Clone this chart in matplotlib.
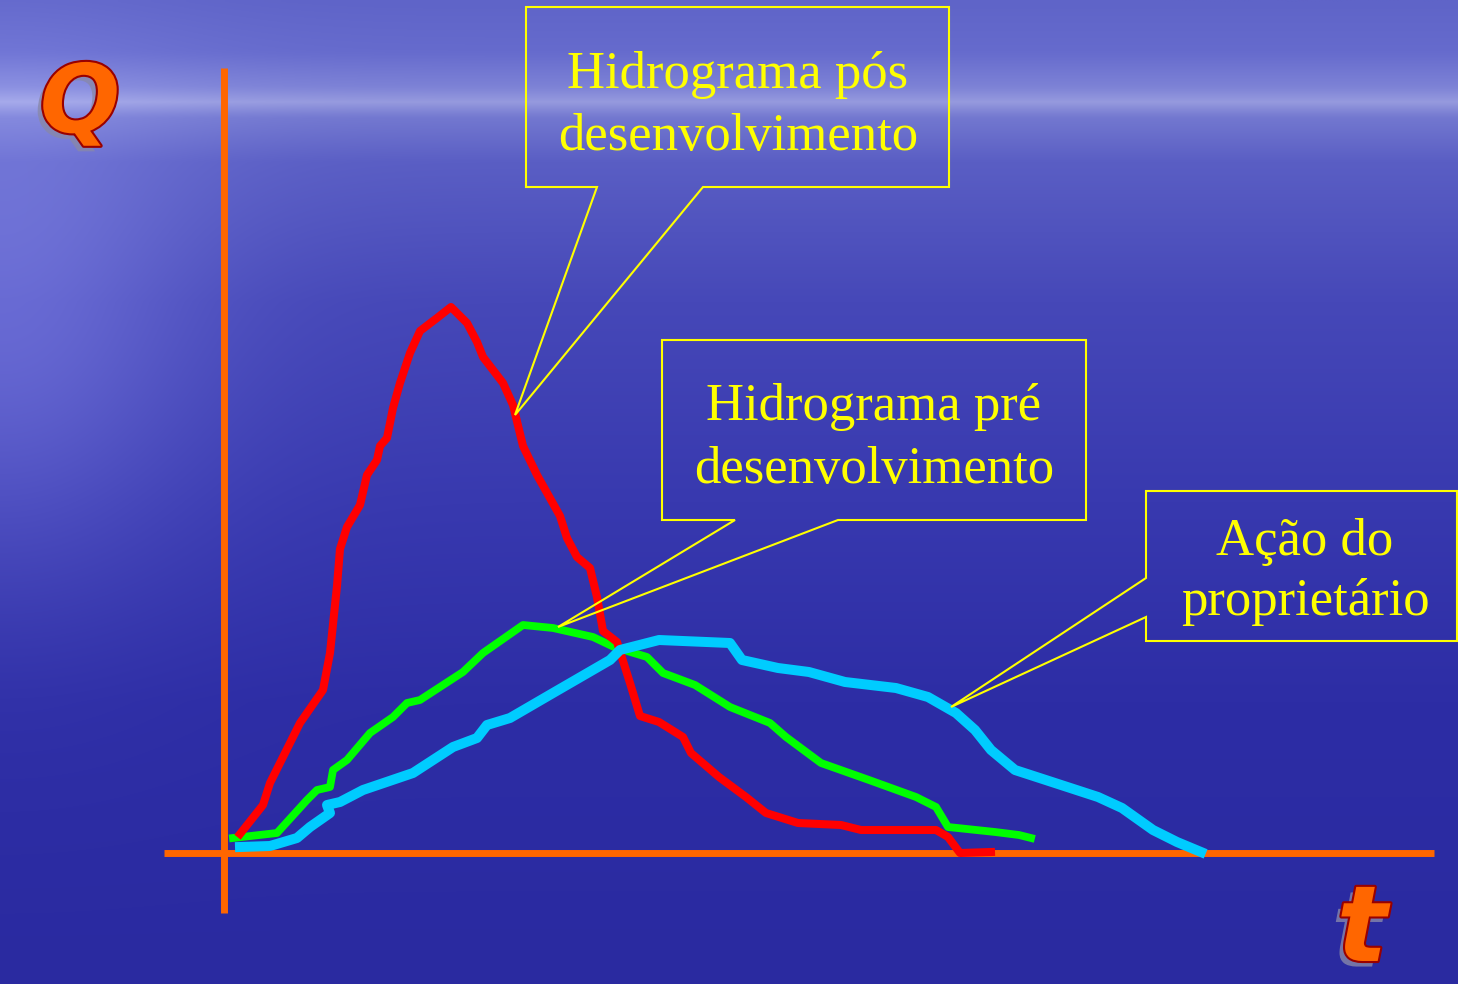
import numpy as np
import matplotlib
matplotlib.use("Agg")
import matplotlib.pyplot as plt
from matplotlib.patches import Polygon
import matplotlib.patheffects as pe

# ---------------- data (t, Q in arbitrary units; origin at axis cross) -------------
red_t = [1.6, 3.9, 4.6, 7.6, 9.9, 10.6, 11.3, 11.6, 12.3, 13.6, 14.3, 15.3, 15.6, 16.3,
         16.9, 17.6, 18.6, 19.6, 21.3, 22.7, 24.3, 25.3, 25.9, 27.9, 28.9, 29.9, 31.3,
         33.6, 34.3, 35.3, 36.6, 37.3, 37.9, 39.3, 40.6, 41.6, 43.5, 45.9, 46.7, 49.5,
         52.2, 54.2, 57.4, 61.7, 63.7, 71.2, 72.4, 73.6, 76.7]
red_q = [1.9, 4.8, 7.0, 13.0, 16.3, 20.0, 26.7, 30.4, 32.6, 34.8, 37.8, 39.3, 40.7, 41.5,
         44.5, 47.0, 50.0, 52.2, 53.5, 54.6, 53.0, 51.1, 49.6, 47.0, 44.8, 40.7, 37.8,
         33.7, 31.5, 29.6, 28.5, 25.6, 22.2, 21.1, 17.0, 13.7, 13.1, 11.6, 10.0, 7.6,
         5.6, 4.0, 3.0, 2.8, 2.3, 2.3, 1.6, 0.0, 0.1]

green_t = [0.9, 5.3, 8.3, 9.3, 10.6, 10.9, 12.3, 14.6, 16.9, 18.3, 19.6, 23.9, 25.9,
           29.9, 32.9, 36.9, 39.0, 42.3, 43.9, 47.1, 50.6, 54.6, 56.2, 59.7, 64.5,
           69.2, 71.2, 72.4, 77.1, 79.5, 80.7]
green_q = [1.5, 2.0, 5.3, 6.3, 6.6, 8.3, 9.3, 12.0, 13.6, 15.0, 15.3, 18.1, 20.0,
           22.8, 22.5, 21.6, 20.6, 19.6, 18.0, 16.8, 14.6, 13.0, 11.6, 9.0, 7.3,
           5.6, 4.6, 2.6, 2.1, 1.8, 1.5]

cyan_t = [1.6, 4.6, 7.3, 8.6, 9.6, 10.6, 10.3, 11.6, 13.9, 18.9, 22.9, 25.3, 26.3,
          28.6, 32.9, 38.6, 39.6, 43.5, 50.6, 51.8, 55.4, 58.5, 62.1, 67.2, 70.4,
          73.2, 75.1, 76.7, 77.9, 79.1, 83.1, 87.4, 89.8, 92.9, 95.3, 97.7]
cyan_q = [0.6, 0.7, 1.5, 2.6, 3.3, 4.0, 4.8, 5.1, 6.3, 8.0, 10.6, 11.5, 12.8,
          13.5, 16.0, 19.3, 20.3, 21.3, 21.0, 19.3, 18.5, 18.1, 17.1, 16.5, 15.6,
          14.0, 12.3, 10.3, 9.3, 8.3, 7.0, 5.6, 4.5, 2.3, 1.1, 0.1]

labels = ["Hidrograma pós\ndesenvolvimento",
          "Hidrograma pré\ndesenvolvimento",
          "Ação do\nproprietário"]

# ---------------- figure ------------------------------------------------------------
W, H = 1458, 984
fig = plt.figure(figsize=(W / 100, H / 100), dpi=100)
ax = fig.add_axes([0, 0, 1, 1])
# 1 data unit = 10 px, origin at pixel (224, 853)
x0, y0 = 224, 853
xlim = (-x0 / 10, (W - x0) / 10)
ylim = (-(H - y0) / 10, y0 / 10)
ax.set_xlim(*xlim)
ax.set_ylim(*ylim)
ax.axis("off")

# background gradient
yy, xx = np.mgrid[0:H:4, 0:W:4].astype(float)
stops_y = [0, 50, 85, 100, 115, 160, 300, 500, 700, 984]
stops_c = np.array([[95, 100, 200], [102, 107, 205], [125, 130, 214], [150, 154, 222],
                    [115, 120, 208], [90, 94, 196], [70, 72, 184], [56, 57, 175],
                    [45, 45, 165], [42, 42, 160]], float)
img = np.zeros(yy.shape + (3,))
for c in range(3):
    img[..., c] = np.interp(yy, stops_y, stops_c[:, c])
glow = np.exp(-(xx / 200.0) ** 2) * np.exp(-((yy - 330) / 260.0) ** 2)
img += glow[..., None] * np.array([35, 35, 28])
img = np.clip(img / 255.0, 0, 1)
ax.imshow(img, extent=(xlim[0], xlim[1], ylim[0], ylim[1]), aspect="auto",
          zorder=0, interpolation="bilinear")

# axes lines
axis_col = "#ff6600"
ax.plot([0, 0], [-6.0, 78.5], color=axis_col, lw=5, solid_capstyle="butt", zorder=2)
ax.plot([-6.0, 121.0], [0, 0], color=axis_col, lw=5, solid_capstyle="butt", zorder=2)

# curves
ax.plot(green_t, green_q, color="#00ff00", lw=5.6, solid_joinstyle="round", zorder=3)
ax.plot(red_t, red_q, color="#ff0000", lw=5.8, solid_joinstyle="round", zorder=4)
ax.plot(cyan_t, cyan_q, color="#00ccff", lw=7.2, solid_joinstyle="round", zorder=5)

# callouts
def px(x, y):
    return ((x - x0) / 10, (y0 - y) / 10)

callouts = [
    [(526, 7), (949, 7), (949, 187), (703, 187), (515, 415), (597, 187), (526, 187)],
    [(662, 340), (1086, 340), (1086, 520), (838, 520), (558, 627), (735, 520), (662, 520)],
    [(1146, 491), (1457, 491), (1457, 641), (1146, 641), (1146, 617), (951, 707), (1146, 578)],
]
for pts in callouts:
    ax.add_patch(Polygon([px(*p) for p in pts], closed=True, fill=False,
                         edgecolor="#ffff00", lw=1.5, zorder=6))

text_pos = [(738, 88, 150), (874, 420, 483), (1305, 555, 615)]
for lab, (cx, b1, b2) in zip(labels, text_pos):
    l1, l2 = lab.split("\n")
    for line, by in ((l1, b1), (l2, b2)):
        ax.text(*px(cx, by), line, color="#ffff00", fontsize=38,
                family=["Liberation Serif", "DejaVu Serif"], ha="center",
                va="baseline", zorder=7)

# axis letters
effects = [pe.withSimplePatchShadow(offset=(-4, -4), shadow_rgbFace="#8888aa", alpha=0.8),
           pe.Stroke(linewidth=3, foreground="#990000"), pe.Normal()]
ax.text(*px(80, 106), "Q", color="#ff6600", fontsize=68, fontweight="bold",
        fontstyle="italic", family="DejaVu Sans", ha="center", va="center",
        path_effects=effects, zorder=8)
ax.text(*px(1362, 932), "t", color="#ff6600", fontsize=76, fontweight="bold",
        fontstyle="italic", family="DejaVu Sans", ha="center", va="center",
        path_effects=effects, zorder=8)

fig.savefig("out.png", dpi=100)
